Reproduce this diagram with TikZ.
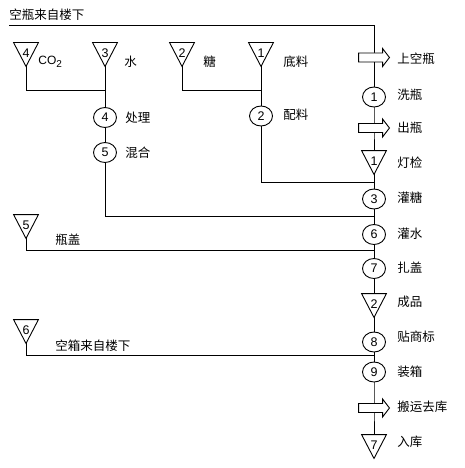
\documentclass[tikz,border=0pt]{standalone}
\usepackage{fontspec}
\setmainfont{Liberation Sans}
\newfontfamily\cjk{Noto Sans CJK SC}
\usetikzlibrary{calc,shapes.geometric}
\begin{document}
\begin{tikzpicture}[x=1pt,y=-1pt, line width=0.9pt,
  op/.style={draw, ellipse, minimum width=23pt, minimum height=20pt, inner sep=0pt, fill=white, font=\fontsize{12.5}{12.5}\selectfont},
  tribox/.style={minimum width=24pt, minimum height=23pt, inner sep=0pt, text height=9pt, text depth=3pt, font=\fontsize{12.5}{12.5}\selectfont},
  arrbox/.style={minimum width=30pt, minimum height=18pt, inner sep=0pt},
  lab/.style={anchor=west, inner sep=0pt, font=\cjk\fontsize{12.5}{13}\selectfont},
  lat/.style={anchor=west, inner sep=0pt, font=\fontsize{12}{12}\selectfont}]
\useasboundingbox (0,0) rectangle (464,468);

% coordinates
\coordinate (tl) at (9,25);
\coordinate (tr) at (374,25);
\coordinate (j1) at (374,182);
\coordinate (j2) at (374,216);
\coordinate (j3) at (374,250);
\coordinate (j4) at (105,90);
\coordinate (j5) at (261,90);
\coordinate (j6) at (374,355);

% triangles (boxes)
\node[tribox] (tA) at (26,54.5) {4};
\node[tribox] (tB) at (105,54.5) {3};
\node[tribox] (tC) at (182,54.5) {2};
\node[tribox] (tD) at (261,54.5) {1};
\node[tribox] (t1) at (374,162.5) {1};
\node[tribox] (t2) at (374,305.5) {2};
\node[tribox] (t5) at (26,226.5) {5};
\node[tribox] (t6) at (26,331.5) {6};
\node[tribox] (t7) at (374,446.5) {7};

% arrow boxes
\node[arrbox] (a1) at (374,57.5) {};
\node[arrbox] (a2) at (374,128) {};
\node[arrbox] (a3) at (374,408) {};

% circles
\node[op] (c1) at (374,97) {1};
\node[op] (c3) at (374,199) {3};
\node[op] (c6) at (374,234.5) {6};
\node[op] (c7) at (374,268.5) {7};
\node[op] (c8) at (374,342) {8};
\node[op] (c9) at (374,372) {9};
\node[op] (c4) at (105,117.5) {4};
\node[op] (c5) at (105,152.5) {5};
\node[op] (c2) at (261,116) {2};

% connectors
\draw (tl) -- (tr) -- (a1.center);
\draw (a1.center) -- (c1) -- (a2.center) -- (t1.north);
\draw (t1.south) -- (c3) -- (c6) -- (c7) -- (t2.north);
\draw (t2.south) -- (c8) -- (c9) -- (a3.center) -- (t7.north);
\draw (tA.south) |- (j4);
\draw (tB.south) -- (c4) -- (c5);
\draw (c5) |- (j2);
\draw (tC.south) |- (j5);
\draw (tD.south) -- (c2);
\draw (c2) |- (j1);
\draw (t5.south) |- (j3);
\draw (t6.south) |- (j6);

% triangle outlines
\foreach \t in {tA,tB,tC,tD,t1,t2,t5,t6,t7}
  \draw[line join=miter] (\t.north west) -- (\t.north east) -- (\t.south) -- cycle;

% arrow outlines
\foreach \a in {a1,a2,a3}
  \draw[fill=white] ([shift={(0,-4.5)}]\a.west) -- ([shift={(24,-4.5)}]\a.west) -- ([shift={(24,-9)}]\a.west) -- (\a.east) -- ([shift={(24,9)}]\a.west) -- ([shift={(24,4.5)}]\a.west) -- ([shift={(0,4.5)}]\a.west) -- cycle;

% labels
\node[lab] (l0) at (9,15) {空瓶来自楼下};
\node[lab] (r1) at (397,59) {上空瓶};
\node[lab] (r2) at (397,95) {洗瓶};
\node[lab] (r3) at (397,128) {出瓶};
\node[lab] (r4) at (397,163) {灯检};
\node[lab] (r5) at (397,198) {灌糖};
\node[lab] (r6) at (397,234) {灌水};
\node[lab] (r7) at (397,268) {扎盖};
\node[lab] (r8) at (397,302) {成品};
\node[lab] (r9) at (397,337) {贴商标};
\node[lab] (r10) at (397,372) {装箱};
\node[lab] (r11) at (397,407) {搬运去库};
\node[lab] (r12) at (397,442) {入库};
\node[lat] (lco) at (38,62) {CO\raisebox{-3pt}{\fontsize{10}{10}\selectfont 2}};
\node[lab] (lw) at (124,62) {水};
\node[lab] (ls) at (203,62) {糖};
\node[lab] (ld) at (283,62) {底料};
\node[lab] (lp) at (125,117.5) {处理};
\node[lab] (lm) at (125,153) {混合};
\node[lab] (lpl) at (283,115) {配料};
\node[lab] (lg) at (55,240) {瓶盖};
\node[lab] (lx) at (55,346) {空箱来自楼下};
\end{tikzpicture}
\end{document}
